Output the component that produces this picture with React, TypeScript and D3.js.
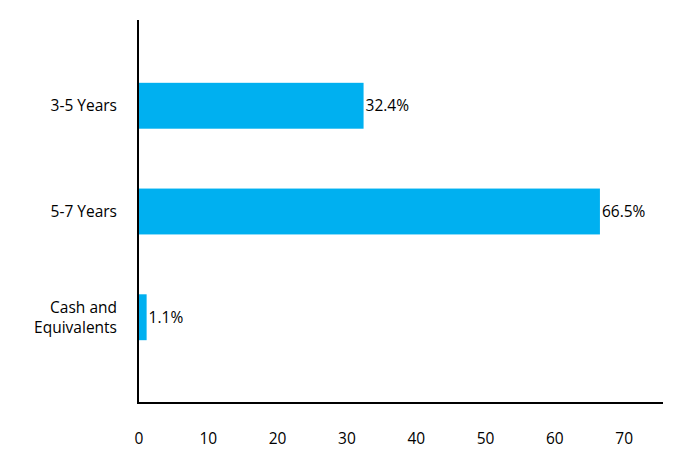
import React from "react";
import * as d3 from "d3";

const categories: string[][] = [["3-5 Years"], ["5-7 Years"], ["Cash and", "Equivalents"]];
const values: number[] = [32.4, 66.5, 1.1];
const valueLabels: string[] = ["32.4%", "66.5%", "1.1%"];
const xTicks: number[] = [0, 10, 20, 30, 40, 50, 60, 70];

const W = 696;
const H = 468;
const left = 138;
const right = 663;
const top = 20;
const bottom = 403;
const FONT = "'Open Sans', sans-serif";
const FS = 15.5;

export default function App() {
  const keys = categories.map((c) => c.join(" "));
  const x = d3.scaleLinear().domain([0, 75.6]).range([left + 1, right]);
  const y = d3
    .scaleBand<string>()
    .domain(keys)
    .range([top, bottom])
    .paddingInner(0.566)
    .paddingOuter(0.594);

  return (
    <svg
      width={W}
      height={H}
      style={{ position: "absolute", left: 0, top: 0, background: "#fff" }}
      fontFamily={FONT}
    >
      {values.map((v, i) => {
        const yy = y(keys[i])!;
        return (
          <g key={i}>
            <rect
              x={x(0)}
              y={yy}
              width={x(v) - x(0)}
              height={y.bandwidth()}
              fill="#00B0F0"
            />
            <text
              x={x(v) + 2}
              y={yy + y.bandwidth() / 2}
              dy="0.35em"
              fontSize={FS}
              fill="#000"
            >
              {valueLabels[i]}
            </text>
          </g>
        );
      })}
      {categories.map((lines, i) => {
        const cy = y(keys[i])! + y.bandwidth() / 2;
        const lh = 20;
        const start = cy - ((lines.length - 1) * lh) / 2;
        return (
          <text key={i} textAnchor="end" fontSize={FS} fill="#000">
            {lines.map((l, j) => (
              <tspan key={j} x={117} y={start + j * lh} dy="0.35em">
                {l}
              </tspan>
            ))}
          </text>
        );
      })}
      {xTicks.map((t) => (
        <text
          key={t}
          x={x(t)}
          y={438.5}
          dy="0.35em"
          textAnchor="middle"
          fontSize={FS}
          fill="#000"
        >
          {t}
        </text>
      ))}
      <line x1={left} x2={left} y1={top} y2={bottom + 1} stroke="#000" strokeWidth={2} />
      <line x1={left - 1} x2={right} y1={bottom} y2={bottom} stroke="#000" strokeWidth={2} />
    </svg>
  );
}
